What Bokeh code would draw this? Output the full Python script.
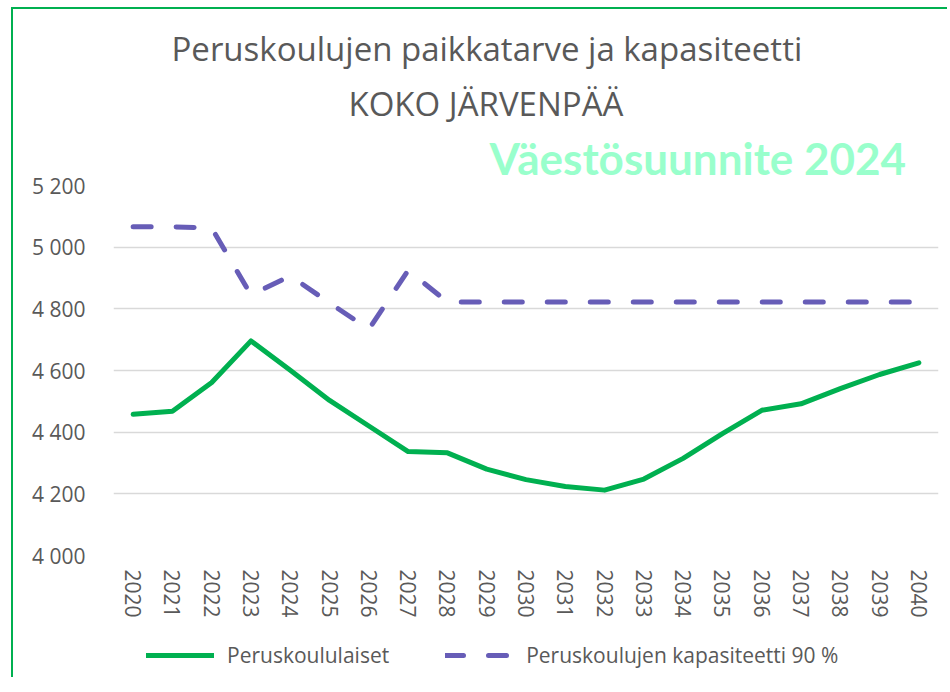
from bokeh.plotting import figure
from bokeh.layouts import column
from bokeh.models import FactorRange, Range1d, FixedTicker, Legend, LegendItem, Title
from bokeh.embed import file_html
from bokeh.resources import INLINE

years = [str(y) for y in range(2020, 2041)]
pupils = [4458, 4468, 4561, 4696, 4601, 4503, 4420, 4337, 4333, 4280, 4246,
          4224, 4212, 4248, 4315, 4395, 4471, 4492, 4541, 4587, 4625]
capacity = [5066, 5066, 5062, 4845, 4907, 4819, 4734, 4925, 4822, 4822, 4822,
            4822, 4822, 4822, 4822, 4822, 4822, 4822, 4822, 4822, 4822]
y_ticks = [4000, 4200, 4400, 4600, 4800, 5000, 5200]
y_tick_labels = ["4 000", "4 200", "4 400", "4 600", "4 800", "5 000", "5 200"]
series_names = ["Peruskoululaiset", "Peruskoulujen kapasiteetti 90 %"]
title_lines = ["Peruskoulujen paikkatarve ja kapasiteetti", "KOKO JÄRVENPÄÄ"]
subtitle = "Väestösuunnite 2024"

GREEN = "#00B050"
PURPLE = "#675DB7"
GRAY = "#595959"
FONT = "Open Sans"

p = figure(x_range=FactorRange(*years), y_range=Range1d(4000, 5200),
           frame_width=823, frame_height=368,
           min_border_left=100, min_border_right=11,
           min_border_top=176, min_border_bottom=84,
           output_backend="svg", toolbar_location=None)
p.margin = (7, 0, 0, 11)
p.styles = {"border-left": "2px solid " + GREEN, "border-top": "2px solid " + GREEN}
p.outline_line_color = None
p.background_fill_color = "white"
p.border_fill_color = "white"

p.xgrid.grid_line_color = None
p.ygrid.grid_line_color = "#D9D9D9"
p.ygrid.grid_line_width = 1.5

p.yaxis.ticker = FixedTicker(ticks=y_ticks)
p.yaxis.major_label_overrides = dict(zip(y_ticks, y_tick_labels))
for ax in (p.xaxis[0], p.yaxis[0]):
    ax.axis_line_color = None
    ax.major_tick_line_color = None
    ax.minor_tick_line_color = None
    ax.major_tick_out = 0
    ax.major_tick_in = 0
    ax.major_label_text_color = GRAY
    ax.major_label_text_font = FONT
    ax.major_label_text_font_size = "21px"
p.yaxis.major_label_standoff = 28
p.xaxis.major_label_standoff = 14
p.xaxis.major_label_orientation = "vertical"

line_styles = [dict(line_color=GREEN, line_width=5, line_cap="round", line_join="round"),
               dict(line_color=PURPLE, line_width=5, line_cap="round", line_join="round",
                    line_dash="18 25")]

p.line(years, pupils, **line_styles[0])
p.line(years, capacity, **line_styles[1])

p.title.text = title_lines[0]
p.title.align = "left"
p.title.offset = 58
p.title.text_font = FONT
p.title.text_font_size = "33px"
p.title.text_font_style = "normal"
p.title.text_color = GRAY
p.title.standoff = 9

sub = Title(text=subtitle, align="left", offset=376, text_font="Lato",
            text_font_size="44px", text_font_style="bold", text_color="#99FFCC",
            standoff=3)
t2 = Title(text=title_lines[1], align="left", offset=235, text_font=FONT,
           text_font_size="33px", text_font_style="normal", text_color=GRAY, standoff=6)
p.add_layout(sub, "above")
p.add_layout(t2, "above")

# legend strip below the chart; its two renderers carry the same series,
# which lie outside this strip's ranges and so only serve the legend glyphs
lg = figure(width=934, height=40, x_range=Range1d(0, 1), y_range=Range1d(0, 1),
            x_axis_type=None, y_axis_type=None,
            min_border_left=0, min_border_right=0, min_border_top=0, min_border_bottom=0,
            output_backend="svg", toolbar_location=None)
lg.margin = (0, 0, 0, 11)
lg.styles = {"border-left": "2px solid " + GREEN}
lg.outline_line_color = None
lg.grid.visible = False
lg.background_fill_color = "white"
lg.border_fill_color = "white"
idx = list(range(len(years)))
g1 = lg.line(x=idx, y=pupils, **line_styles[0])
g2 = lg.line(x=idx, y=capacity, **line_styles[1])

legend = Legend(items=[LegendItem(label=series_names[0], renderers=[g1]),
                       LegendItem(label=series_names[1], renderers=[g2])],
                orientation="horizontal", location=(33, 8), margin=0,
                padding=0, spacing=56, label_standoff=13,
                glyph_width=68, glyph_height=24, label_height=24,
                label_text_font=FONT, label_text_font_size="21px",
                label_text_color=GRAY, border_line_alpha=0,
                background_fill_alpha=0)
lg.add_layout(legend)

layout = column(p, lg, spacing=0)
open("out.html", "w").write(file_html(layout, INLINE))
